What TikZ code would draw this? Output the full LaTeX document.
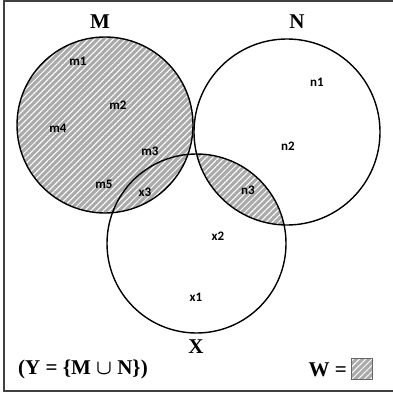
\documentclass[tikz,border=0pt]{standalone}
\usepackage{amsmath,amssymb}
\usepackage{fontspec}
\setmainfont{Liberation Serif}
\newfontfamily\elemfont{Carlito}
\usepackage{xcolor}
\usepackage{tikz}
\usetikzlibrary{positioning,calc,patterns.meta}

\definecolor{hatchgray}{RGB}{170,170,170}

\begin{document}
\begin{tikzpicture}[x=1pt, y=-1pt,
  setcircle/.style = {circle, draw, line width=1.4pt, inner sep=0pt},
  hatched/.style = {preaction={fill=hatchgray}, pattern={Lines[angle=45,distance=4.4pt,line width=1pt]}, pattern color=white},
  elem/.style = {font=\elemfont\bfseries\fontsize{13}{15}\selectfont, inner sep=1pt},
  setname/.style = {font=\bfseries\fontsize{21}{24}\selectfont, inner sep=1pt}]

\useasboundingbox (0,0) rectangle (392,395);
\draw[line width=1.3pt, black!75] (4,1) rectangle (394,391);

% shaded parts: all of M, and N with X
\path[hatched] (105,125) circle[radius=88];
\begin{scope}
\clip (287,132) circle[radius=93];
\path[hatched] (196.5,243.5) circle[radius=89.5];
\end{scope}

\node[setcircle, minimum size=176pt] (M) at (105,125) {};
\node[setcircle, minimum size=186pt] (N) at (287,132) {};
\node[setcircle, minimum size=179pt] (X) at (196.5,243.5) {};

\node[setname] (Mname) at (100,22) {M};
\node[setname] (Nname) at (297,22) {N};
\node[setname] (Xname) at (196,347) {X};

\node[elem] (m1) at (78,61) {m1};
\node[elem] (m2) at (118,105) {m2};
\node[elem] (m4) at (58,128) {m4};
\node[elem] (m3) at (150,151) {m3};
\node[elem] (m5) at (104,184) {m5};
\node[elem] (x3) at (145,192) {x3};
\node[elem] (n1) at (317,82) {n1};
\node[elem] (n2) at (288,146) {n2};
\node[elem] (n3) at (248,190) {n3};
\node[elem] (x2) at (218,236) {x2};
\node[elem] (x1) at (196,297) {x1};

\node[setname, anchor=west, font=\bfseries\fontsize{21}{24}\selectfont] (union) at (17,369) {(Y = \{M {\boldmath$\cup$} N\})};
\node[setname, anchor=east, font=\bfseries\fontsize{21}{24}\selectfont] (Wname) at (348,370) {W =};
\node[draw=black!60, line width=0.9pt, minimum size=21pt, inner sep=0pt, hatched] (Wkey) at (361.5,369) {};
\end{tikzpicture}
\end{document}
